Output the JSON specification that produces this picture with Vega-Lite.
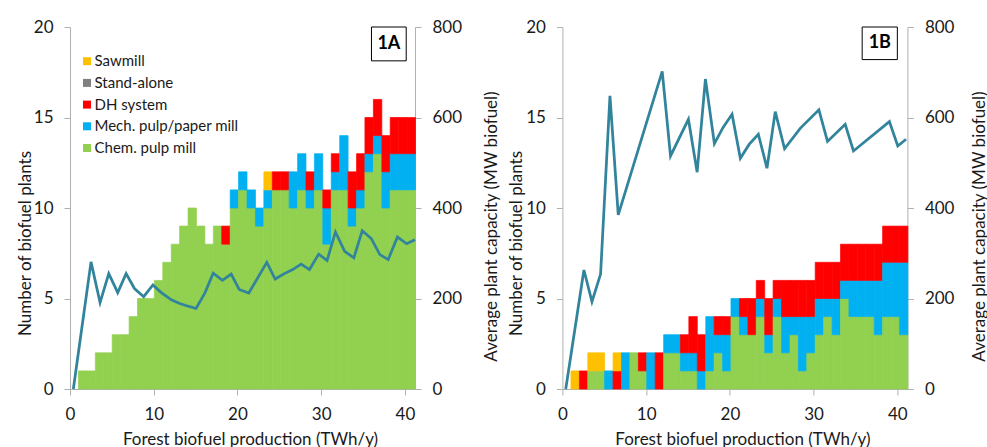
{
"$schema": "https://vega.github.io/schema/vega-lite/v6.json",
"background": "white",
"padding": {"left": 16, "top": 18, "right": 0, "bottom": 0},
"bounds": "flush",
"spacing": 147.4,
"config": {
  "font": "Lato",
  "view": {"stroke": null},
  "axis": {"grid": false, "domainColor": "#B0B0B0", "tickColor": "#B0B0B0", "tickSize": 6, "labelFontSize": 17, "labelColor": "#1a1a1a", "titleFontSize": 17, "titleFontWeight": "normal", "titleColor": "#1a1a1a", "labelPadding": 11, "labelFlush": false, "labelFont": "Lato", "titleFont": "Lato", "domainWidth": 1, "tickWidth": 1}
},
"datasets": {
  "a1": [
    {"lo":0.96,"hi":1.97,"t":"Chem. pulp mill","n":1},
    {"lo":1.97,"hi":2.97,"t":"Chem. pulp mill","n":1},
    {"lo":2.97,"hi":3.98,"t":"Chem. pulp mill","n":2},
    {"lo":3.98,"hi":4.98,"t":"Chem. pulp mill","n":2},
    {"lo":4.98,"hi":5.99,"t":"Chem. pulp mill","n":3},
    {"lo":5.99,"hi":7.00,"t":"Chem. pulp mill","n":3},
    {"lo":7.00,"hi":8.00,"t":"Chem. pulp mill","n":4},
    {"lo":8.00,"hi":9.01,"t":"Chem. pulp mill","n":5},
    {"lo":9.01,"hi":10.01,"t":"Chem. pulp mill","n":5},
    {"lo":10.01,"hi":11.02,"t":"Chem. pulp mill","n":6},
    {"lo":11.02,"hi":12.03,"t":"Chem. pulp mill","n":7},
    {"lo":12.03,"hi":13.03,"t":"Chem. pulp mill","n":8},
    {"lo":13.03,"hi":14.04,"t":"Chem. pulp mill","n":9},
    {"lo":14.04,"hi":15.04,"t":"Chem. pulp mill","n":10},
    {"lo":15.04,"hi":16.05,"t":"Chem. pulp mill","n":9},
    {"lo":16.05,"hi":17.06,"t":"Chem. pulp mill","n":8},
    {"lo":17.06,"hi":18.06,"t":"Chem. pulp mill","n":9},
    {"lo":18.06,"hi":19.07,"t":"Chem. pulp mill","n":8},
    {"lo":18.06,"hi":19.07,"t":"DH system","n":1},
    {"lo":19.07,"hi":20.07,"t":"Chem. pulp mill","n":10},
    {"lo":19.07,"hi":20.07,"t":"Mech. pulp/paper mill","n":1},
    {"lo":20.07,"hi":21.08,"t":"Chem. pulp mill","n":11},
    {"lo":20.07,"hi":21.08,"t":"Mech. pulp/paper mill","n":1},
    {"lo":21.08,"hi":22.09,"t":"Chem. pulp mill","n":10},
    {"lo":21.08,"hi":22.09,"t":"Mech. pulp/paper mill","n":1},
    {"lo":22.09,"hi":23.09,"t":"Chem. pulp mill","n":9},
    {"lo":22.09,"hi":23.09,"t":"Mech. pulp/paper mill","n":1},
    {"lo":23.09,"hi":24.10,"t":"Chem. pulp mill","n":10},
    {"lo":23.09,"hi":24.10,"t":"Mech. pulp/paper mill","n":1},
    {"lo":23.09,"hi":24.10,"t":"Sawmill","n":1},
    {"lo":24.10,"hi":25.10,"t":"Chem. pulp mill","n":11},
    {"lo":24.10,"hi":25.10,"t":"DH system","n":1},
    {"lo":25.10,"hi":26.11,"t":"Chem. pulp mill","n":11},
    {"lo":25.10,"hi":26.11,"t":"DH system","n":1},
    {"lo":26.11,"hi":27.12,"t":"Chem. pulp mill","n":10},
    {"lo":26.11,"hi":27.12,"t":"Mech. pulp/paper mill","n":2},
    {"lo":27.12,"hi":28.12,"t":"Chem. pulp mill","n":11},
    {"lo":27.12,"hi":28.12,"t":"Mech. pulp/paper mill","n":2},
    {"lo":28.12,"hi":29.13,"t":"Chem. pulp mill","n":10},
    {"lo":28.12,"hi":29.13,"t":"Mech. pulp/paper mill","n":1},
    {"lo":28.12,"hi":29.13,"t":"DH system","n":1},
    {"lo":29.13,"hi":30.13,"t":"Chem. pulp mill","n":11},
    {"lo":29.13,"hi":30.13,"t":"Mech. pulp/paper mill","n":2},
    {"lo":30.13,"hi":31.14,"t":"Chem. pulp mill","n":8},
    {"lo":30.13,"hi":31.14,"t":"Mech. pulp/paper mill","n":2},
    {"lo":30.13,"hi":31.14,"t":"DH system","n":1},
    {"lo":31.14,"hi":32.15,"t":"Chem. pulp mill","n":11},
    {"lo":31.14,"hi":32.15,"t":"Mech. pulp/paper mill","n":1},
    {"lo":31.14,"hi":32.15,"t":"DH system","n":1},
    {"lo":32.15,"hi":33.15,"t":"Chem. pulp mill","n":11},
    {"lo":32.15,"hi":33.15,"t":"Mech. pulp/paper mill","n":3},
    {"lo":33.15,"hi":34.16,"t":"Chem. pulp mill","n":9},
    {"lo":33.15,"hi":34.16,"t":"Mech. pulp/paper mill","n":1},
    {"lo":33.15,"hi":34.16,"t":"DH system","n":2},
    {"lo":34.16,"hi":35.16,"t":"Chem. pulp mill","n":10},
    {"lo":34.16,"hi":35.16,"t":"Mech. pulp/paper mill","n":1},
    {"lo":34.16,"hi":35.16,"t":"DH system","n":2},
    {"lo":35.16,"hi":36.17,"t":"Chem. pulp mill","n":12},
    {"lo":35.16,"hi":36.17,"t":"Mech. pulp/paper mill","n":1},
    {"lo":35.16,"hi":36.17,"t":"DH system","n":2},
    {"lo":36.17,"hi":37.18,"t":"Chem. pulp mill","n":13},
    {"lo":36.17,"hi":37.18,"t":"Mech. pulp/paper mill","n":1},
    {"lo":36.17,"hi":37.18,"t":"DH system","n":2},
    {"lo":37.18,"hi":38.18,"t":"Chem. pulp mill","n":10},
    {"lo":37.18,"hi":38.18,"t":"Mech. pulp/paper mill","n":2},
    {"lo":37.18,"hi":38.18,"t":"DH system","n":2},
    {"lo":38.18,"hi":39.19,"t":"Chem. pulp mill","n":11},
    {"lo":38.18,"hi":39.19,"t":"Mech. pulp/paper mill","n":2},
    {"lo":38.18,"hi":39.19,"t":"DH system","n":2},
    {"lo":39.19,"hi":40.19,"t":"Chem. pulp mill","n":11},
    {"lo":39.19,"hi":40.19,"t":"Mech. pulp/paper mill","n":2},
    {"lo":39.19,"hi":40.19,"t":"DH system","n":2},
    {"lo":40.19,"hi":41.20,"t":"Chem. pulp mill","n":11},
    {"lo":40.19,"hi":41.20,"t":"Mech. pulp/paper mill","n":2},
    {"lo":40.19,"hi":41.20,"t":"DH system","n":2}
  ],
  "b1": [
    {"lo":0.96,"hi":1.97,"t":"Sawmill","n":1},
    {"lo":1.97,"hi":2.97,"t":"DH system","n":1},
    {"lo":2.97,"hi":3.98,"t":"Chem. pulp mill","n":1},
    {"lo":2.97,"hi":3.98,"t":"Sawmill","n":1},
    {"lo":3.98,"hi":4.98,"t":"Chem. pulp mill","n":1},
    {"lo":3.98,"hi":4.98,"t":"Sawmill","n":1},
    {"lo":4.98,"hi":5.99,"t":"Mech. pulp/paper mill","n":1},
    {"lo":5.99,"hi":7.00,"t":"DH system","n":1},
    {"lo":5.99,"hi":7.00,"t":"Sawmill","n":1},
    {"lo":7.00,"hi":8.00,"t":"Mech. pulp/paper mill","n":2},
    {"lo":8.00,"hi":9.01,"t":"Chem. pulp mill","n":2},
    {"lo":9.01,"hi":10.01,"t":"Chem. pulp mill","n":1},
    {"lo":9.01,"hi":10.01,"t":"DH system","n":1},
    {"lo":10.01,"hi":11.02,"t":"Mech. pulp/paper mill","n":2},
    {"lo":11.02,"hi":12.03,"t":"DH system","n":2},
    {"lo":12.03,"hi":13.03,"t":"Chem. pulp mill","n":2},
    {"lo":12.03,"hi":13.03,"t":"Mech. pulp/paper mill","n":1},
    {"lo":13.03,"hi":14.04,"t":"Chem. pulp mill","n":2},
    {"lo":13.03,"hi":14.04,"t":"Mech. pulp/paper mill","n":1},
    {"lo":14.04,"hi":15.04,"t":"Chem. pulp mill","n":1},
    {"lo":14.04,"hi":15.04,"t":"Mech. pulp/paper mill","n":1},
    {"lo":14.04,"hi":15.04,"t":"DH system","n":1},
    {"lo":15.04,"hi":16.05,"t":"Chem. pulp mill","n":1},
    {"lo":15.04,"hi":16.05,"t":"Mech. pulp/paper mill","n":1},
    {"lo":15.04,"hi":16.05,"t":"DH system","n":2},
    {"lo":16.05,"hi":17.06,"t":"Mech. pulp/paper mill","n":1},
    {"lo":16.05,"hi":17.06,"t":"DH system","n":2},
    {"lo":17.06,"hi":18.06,"t":"Chem. pulp mill","n":1},
    {"lo":17.06,"hi":18.06,"t":"Mech. pulp/paper mill","n":3},
    {"lo":18.06,"hi":19.07,"t":"Chem. pulp mill","n":2},
    {"lo":18.06,"hi":19.07,"t":"Mech. pulp/paper mill","n":1},
    {"lo":18.06,"hi":19.07,"t":"DH system","n":1},
    {"lo":19.07,"hi":20.07,"t":"Chem. pulp mill","n":1},
    {"lo":19.07,"hi":20.07,"t":"Mech. pulp/paper mill","n":2},
    {"lo":19.07,"hi":20.07,"t":"DH system","n":1},
    {"lo":20.07,"hi":21.08,"t":"Chem. pulp mill","n":4},
    {"lo":20.07,"hi":21.08,"t":"Mech. pulp/paper mill","n":1},
    {"lo":21.08,"hi":22.09,"t":"Chem. pulp mill","n":3},
    {"lo":21.08,"hi":22.09,"t":"Mech. pulp/paper mill","n":1},
    {"lo":21.08,"hi":22.09,"t":"DH system","n":1},
    {"lo":22.09,"hi":23.09,"t":"Chem. pulp mill","n":3},
    {"lo":22.09,"hi":23.09,"t":"DH system","n":2},
    {"lo":23.09,"hi":24.10,"t":"Chem. pulp mill","n":4},
    {"lo":23.09,"hi":24.10,"t":"Mech. pulp/paper mill","n":1},
    {"lo":23.09,"hi":24.10,"t":"DH system","n":1},
    {"lo":24.10,"hi":25.10,"t":"Chem. pulp mill","n":2},
    {"lo":24.10,"hi":25.10,"t":"Mech. pulp/paper mill","n":1},
    {"lo":24.10,"hi":25.10,"t":"DH system","n":2},
    {"lo":25.10,"hi":26.11,"t":"Chem. pulp mill","n":4},
    {"lo":25.10,"hi":26.11,"t":"Mech. pulp/paper mill","n":1},
    {"lo":25.10,"hi":26.11,"t":"DH system","n":1},
    {"lo":26.11,"hi":27.12,"t":"Chem. pulp mill","n":2},
    {"lo":26.11,"hi":27.12,"t":"Mech. pulp/paper mill","n":2},
    {"lo":26.11,"hi":27.12,"t":"DH system","n":2},
    {"lo":27.12,"hi":28.12,"t":"Chem. pulp mill","n":3},
    {"lo":27.12,"hi":28.12,"t":"Mech. pulp/paper mill","n":1},
    {"lo":27.12,"hi":28.12,"t":"DH system","n":2},
    {"lo":28.12,"hi":29.13,"t":"Chem. pulp mill","n":1},
    {"lo":28.12,"hi":29.13,"t":"Mech. pulp/paper mill","n":3},
    {"lo":28.12,"hi":29.13,"t":"DH system","n":2},
    {"lo":29.13,"hi":30.13,"t":"Chem. pulp mill","n":2},
    {"lo":29.13,"hi":30.13,"t":"Mech. pulp/paper mill","n":2},
    {"lo":29.13,"hi":30.13,"t":"DH system","n":2},
    {"lo":30.13,"hi":31.14,"t":"Chem. pulp mill","n":3},
    {"lo":30.13,"hi":31.14,"t":"Mech. pulp/paper mill","n":2},
    {"lo":30.13,"hi":31.14,"t":"DH system","n":2},
    {"lo":31.14,"hi":32.15,"t":"Chem. pulp mill","n":4},
    {"lo":31.14,"hi":32.15,"t":"Mech. pulp/paper mill","n":1},
    {"lo":31.14,"hi":32.15,"t":"DH system","n":2},
    {"lo":32.15,"hi":33.15,"t":"Chem. pulp mill","n":3},
    {"lo":32.15,"hi":33.15,"t":"Mech. pulp/paper mill","n":2},
    {"lo":32.15,"hi":33.15,"t":"DH system","n":2},
    {"lo":33.15,"hi":34.16,"t":"Chem. pulp mill","n":5},
    {"lo":33.15,"hi":34.16,"t":"Mech. pulp/paper mill","n":1},
    {"lo":33.15,"hi":34.16,"t":"DH system","n":2},
    {"lo":34.16,"hi":35.16,"t":"Chem. pulp mill","n":4},
    {"lo":34.16,"hi":35.16,"t":"Mech. pulp/paper mill","n":2},
    {"lo":34.16,"hi":35.16,"t":"DH system","n":2},
    {"lo":35.16,"hi":36.17,"t":"Chem. pulp mill","n":4},
    {"lo":35.16,"hi":36.17,"t":"Mech. pulp/paper mill","n":2},
    {"lo":35.16,"hi":36.17,"t":"DH system","n":2},
    {"lo":36.17,"hi":37.18,"t":"Chem. pulp mill","n":4},
    {"lo":36.17,"hi":37.18,"t":"Mech. pulp/paper mill","n":2},
    {"lo":36.17,"hi":37.18,"t":"DH system","n":2},
    {"lo":37.18,"hi":38.18,"t":"Chem. pulp mill","n":3},
    {"lo":37.18,"hi":38.18,"t":"Mech. pulp/paper mill","n":3},
    {"lo":37.18,"hi":38.18,"t":"DH system","n":2},
    {"lo":38.18,"hi":39.19,"t":"Chem. pulp mill","n":4},
    {"lo":38.18,"hi":39.19,"t":"Mech. pulp/paper mill","n":3},
    {"lo":38.18,"hi":39.19,"t":"DH system","n":2},
    {"lo":39.19,"hi":40.19,"t":"Chem. pulp mill","n":4},
    {"lo":39.19,"hi":40.19,"t":"Mech. pulp/paper mill","n":3},
    {"lo":39.19,"hi":40.19,"t":"DH system","n":2},
    {"lo":40.19,"hi":41.20,"t":"Chem. pulp mill","n":3},
    {"lo":40.19,"hi":41.20,"t":"Mech. pulp/paper mill","n":4},
    {"lo":40.19,"hi":41.20,"t":"DH system","n":2}
  ],
  "la": [
    {"p":0.4,"mw":0},{"p":2.51,"mw":281},{"p":3.59,"mw":191},{"p":4.63,"mw":255},{"p":5.7,"mw":213},
    {"p":6.7,"mw":255},{"p":7.7,"mw":222},{"p":8.8,"mw":204},{"p":9.9,"mw":230},{"p":10.9,"mw":213},
    {"p":12.1,"mw":197},{"p":13.1,"mw":189},{"p":14.1,"mw":183},{"p":15.05,"mw":178},{"p":16.1,"mw":212},
    {"p":17.1,"mw":256},{"p":18.2,"mw":240},{"p":19.25,"mw":254},{"p":20.2,"mw":220},{"p":21.35,"mw":212},
    {"p":22.4,"mw":245},{"p":23.5,"mw":280},{"p":24.5,"mw":243},{"p":25.6,"mw":255},{"p":26.6,"mw":264},
    {"p":27.6,"mw":276},{"p":28.6,"mw":264},{"p":29.7,"mw":298},{"p":30.7,"mw":284},{"p":31.7,"mw":347},
    {"p":32.8,"mw":304},{"p":33.9,"mw":290},{"p":34.9,"mw":350},{"p":36.0,"mw":332},{"p":37.0,"mw":297},
    {"p":38.0,"mw":286},{"p":39.1,"mw":336},{"p":40.2,"mw":321},{"p":41.2,"mw":330}
  ],
  "lb": [
    {"p":0.4,"mw":0},{"p":2.57,"mw":263},{"p":3.53,"mw":193},{"p":4.56,"mw":254},{"p":5.68,"mw":648},
    {"p":6.67,"mw":385},{"p":11.92,"mw":702},{"p":12.91,"mw":515},{"p":15.05,"mw":596},{"p":16.09,"mw":479},
    {"p":17.08,"mw":685},{"p":18.15,"mw":542},{"p":19.19,"mw":578},{"p":20.26,"mw":607},{"p":21.25,"mw":510},
    {"p":22.32,"mw":541},{"p":23.4,"mw":563},{"p":24.43,"mw":488},{"p":25.42,"mw":613},{"p":26.53,"mw":531},
    {"p":28.4,"mw":576},{"p":30.63,"mw":617},{"p":31.66,"mw":547},{"p":33.77,"mw":585},{"p":34.76,"mw":526},
    {"p":39.05,"mw":591},{"p":40.05,"mw":537},{"p":41.04,"mw":552}
  ]
},
"resolve": {"scale": {"color": "independent", "stroke": "independent"}},
"hconcat": [
  {
    "width": 345, "height": 362,
    "resolve": {"scale": {"y": "independent"}},
    "layer": [
      {"layer": [
        {"data": {"name": "a1"},
         "transform": [{"lookup": "t", "from": {"data": {"values": [{"t": "Chem. pulp mill", "r": 1}, {"t": "Mech. pulp/paper mill", "r": 2}, {"t": "DH system", "r": 3}, {"t": "Stand-alone", "r": 4}, {"t": "Sawmill", "r": 5}]}, "key": "t", "fields": ["r"]}}],
         "mark": {"type": "bar", "strokeWidth": 0.7, "binSpacing": 0},
         "encoding": {
           "x": {"field": "lo", "type": "quantitative", "bin": "binned", "scale": {"domain": [0, 41.2], "nice": false, "zero": false},
                 "axis": {"values": [0, 10, 20, 30, 40], "format": "d", "title": "Forest biofuel production (TWh/y)", "titleX": 180, "titleY": 55, "titleBaseline": "alphabetic"}},
           "x2": {"field": "hi"},
           "y": {"field": "n", "type": "quantitative", "stack": "zero", "scale": {"domain": [0, 20], "nice": false},
                 "axis": {"orient": "left", "values": [0, 5, 10, 15, 20], "title": "Number of biofuel plants", "titleX": -39.3, "titleY": 216, "titleBaseline": "alphabetic", "titleAngle": -90}},
           "order": {"field": "r", "type": "quantitative", "sort": "ascending"},
           "color": {"field": "t", "type": "nominal",
                     "scale": {"domain": ["Sawmill", "Stand-alone", "DH system", "Mech. pulp/paper mill", "Chem. pulp mill"], "range": ["#FFC000", "#808080", "#FF0000", "#00B0F0", "#92D050"]},
                     "legend": {"orient": "none", "legendX": 9.5, "legendY": 26.7, "title": null, "symbolType": "square", "symbolSize": 64, "symbolStrokeWidth": 0, "labelFontSize": 15, "labelFont": "Lato", "labelColor": "#1a1a1a", "rowPadding": 5.7, "labelOffset": 0, "padding": 0}},
           "stroke": {"field": "t", "type": "nominal",
                     "scale": {"domain": ["Sawmill", "Stand-alone", "DH system", "Mech. pulp/paper mill", "Chem. pulp mill"], "range": ["#FFC000", "#808080", "#FF0000", "#00B0F0", "#92D050"]},
                     "legend": null}
         }},
        {"data": {"values": [{"label": "1A"}]},
         "mark": {"type": "rect", "fill": "white", "stroke": "black", "strokeWidth": 1},
         "encoding": {"x": {"datum": 36.0}, "x2": {"datum": 40.15}, "y": {"datum": 20}, "y2": {"datum": 18.13}}},
        {"data": {"values": [{"label": "1A"}]},
         "mark": {"type": "text", "fontSize": 18, "fontWeight": "bold", "font": "Lato", "color": "black"},
         "encoding": {"x": {"datum": 38.08}, "y": {"datum": 19.07}, "text": {"field": "label"}}}
      ]},
      {"data": {"name": "la"},
       "mark": {"type": "line", "color": "#31849B", "strokeWidth": 2.75},
       "encoding": {
         "x": {"field": "p", "type": "quantitative", "title": "Forest biofuel production (TWh/y)"},
         "y": {"field": "mw", "type": "quantitative", "scale": {"domain": [0, 800], "nice": false},
               "axis": {"orient": "right", "values": [0, 200, 400, 600, 800], "title": "Average plant capacity (MW biofuel)", "titleAngle": -90, "titleX": 81, "titleY": 199, "titleBaseline": "alphabetic"}}
       }}
    ]
  },
  {
    "width": 345, "height": 362,
    "resolve": {"scale": {"y": "independent"}},
    "layer": [
      {"layer": [
        {"data": {"name": "b1"},
         "transform": [{"lookup": "t", "from": {"data": {"values": [{"t": "Chem. pulp mill", "r": 1}, {"t": "Mech. pulp/paper mill", "r": 2}, {"t": "DH system", "r": 3}, {"t": "Stand-alone", "r": 4}, {"t": "Sawmill", "r": 5}]}, "key": "t", "fields": ["r"]}}],
         "mark": {"type": "bar", "strokeWidth": 0.7, "binSpacing": 0},
         "encoding": {
           "x": {"field": "lo", "type": "quantitative", "bin": "binned", "scale": {"domain": [0, 41.2], "nice": false, "zero": false},
                 "axis": {"values": [0, 10, 20, 30, 40], "format": "d", "title": "Forest biofuel production (TWh/y)", "titleX": 180, "titleY": 55, "titleBaseline": "alphabetic"}},
           "x2": {"field": "hi"},
           "y": {"field": "n", "type": "quantitative", "stack": "zero", "scale": {"domain": [0, 20], "nice": false},
                 "axis": {"orient": "left", "values": [0, 5, 10, 15, 20], "title": "Number of biofuel plants", "titleX": -41.2, "titleY": 216, "titleBaseline": "alphabetic", "titleAngle": -90}},
           "order": {"field": "r", "type": "quantitative", "sort": "ascending"},
           "color": {"field": "t", "type": "nominal",
                     "scale": {"domain": ["Sawmill", "Stand-alone", "DH system", "Mech. pulp/paper mill", "Chem. pulp mill"], "range": ["#FFC000", "#808080", "#FF0000", "#00B0F0", "#92D050"]},
                     "legend": null},
           "stroke": {"field": "t", "type": "nominal",
                     "scale": {"domain": ["Sawmill", "Stand-alone", "DH system", "Mech. pulp/paper mill", "Chem. pulp mill"], "range": ["#FFC000", "#808080", "#FF0000", "#00B0F0", "#92D050"]},
                     "legend": null}
         }},
        {"data": {"values": [{"label": "1B"}]},
         "mark": {"type": "rect", "fill": "white", "stroke": "black", "strokeWidth": 1},
         "encoding": {"x": {"datum": 35.8}, "x2": {"datum": 40.0}, "y": {"datum": 20}, "y2": {"datum": 18.2}}},
        {"data": {"values": [{"label": "1B"}]},
         "mark": {"type": "text", "fontSize": 18, "fontWeight": "bold", "font": "Lato", "color": "black"},
         "encoding": {"x": {"datum": 37.9}, "y": {"datum": 19.1}, "text": {"field": "label"}}}
      ]},
      {"data": {"name": "lb"},
       "mark": {"type": "line", "color": "#31849B", "strokeWidth": 2.75},
       "encoding": {
         "x": {"field": "p", "type": "quantitative", "title": "Forest biofuel production (TWh/y)"},
         "y": {"field": "mw", "type": "quantitative", "scale": {"domain": [0, 800], "nice": false},
               "axis": {"orient": "right", "values": [0, 200, 400, 600, 800], "title": "Average plant capacity (MW biofuel)", "titleAngle": -90, "titleX": 77, "titleY": 199, "titleBaseline": "alphabetic"}}
       }}
    ]
  }
]
}
